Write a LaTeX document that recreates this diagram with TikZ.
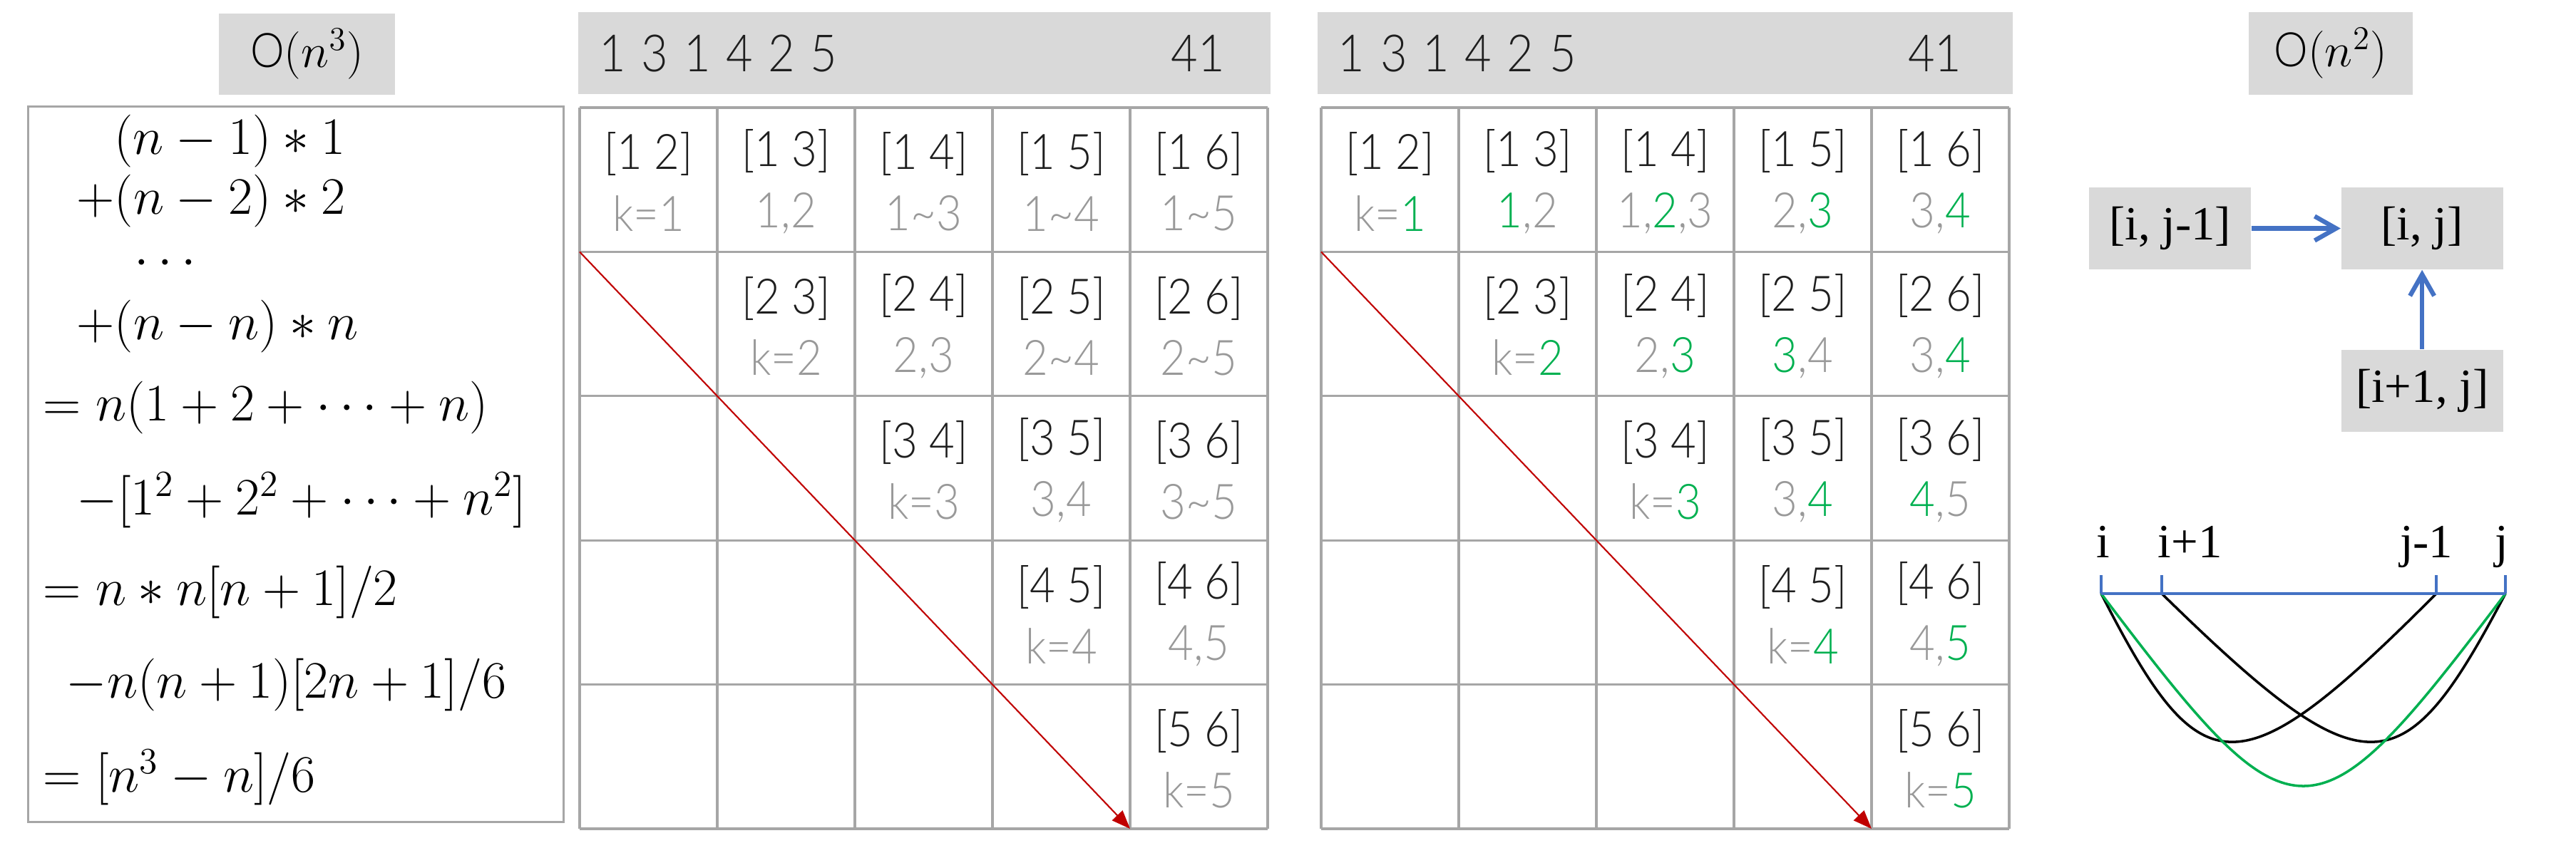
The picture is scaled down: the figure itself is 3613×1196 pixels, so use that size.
\RequirePackage{fix-cm}
\documentclass[tikz,border=0pt]{standalone}
\usepackage{fontspec}
\usetikzlibrary{arrows.meta, positioning}
\newfontfamily\cellfont[FakeStretch=0.9]{Lato Light}
\newfontfamily\tagfont{Liberation Serif}
\definecolor{boxgray}{HTML}{D9D9D9}
\definecolor{linegray}{HTML}{A6A6A6}
\definecolor{txtgray}{HTML}{999999}
\definecolor{ink}{HTML}{1E1E1E}
\definecolor{pgreen}{HTML}{00B050}
\definecolor{pred}{HTML}{C00000}
\definecolor{pblue}{HTML}{4472C4}
\newcommand{\muted}[1]{\textcolor{txtgray}{#1}}
\newcommand{\best}[1]{\textcolor{pgreen}{#1}}

\begin{document}
\begin{tikzpicture}[x=0.01cm, y=-0.01cm,
    tag/.style={fill=boxgray, inner sep=0pt, minimum width=2.27cm,
      minimum height=1.15cm, font=\tagfont\fontsize{19}{23}\selectfont},
    hdr/.style={fill=boxgray, inner ysep=0pt, minimum height=1.15cm,
      align=left, font=\cellfont\fontsize{20.5}{24}\selectfont, text=ink},
    cell/.style={inner sep=0pt, align=center,
      font=\cellfont\fontsize{19.5}{24.5}\selectfont, text=ink},
    frm/.style={anchor=west, inner sep=0pt, font=\fontsize{21}{25}\selectfont},
    ptlabel/.style={anchor=base, inner sep=0pt, font=\tagfont\fontsize{19}{22}\selectfont},
    gridline/.style={draw=linegray, line width=0.9pt},
    diag/.style={pred, line width=0.6pt, -{Triangle[length=2.6mm, width=2mm]}},
    flow/.style={pblue, line width=1.8pt, -{Straight Barb[length=3mm, width=3.4mm]}},
    numline/.style={pblue, line width=1.3pt},
    span/.style={line width=1pt}
  ]
  \useasboundingbox (0,0) rectangle (3613,1196);

  % O(n^3): sum of the naive loops
  \node[tag, minimum width=2.47cm, minimum height=1.14cm] (on3) at (430.5,76)
    {\cellfont O$(n^3)$};
  \node[draw=linegray, line width=0.9pt, minimum width=7.5cm,
    minimum height=10.03cm] (fbox) at (415,651.5) {};
  \node[frm] (f1) at (160,198) {$(n-1)*1$};
  \node[frm] (f2) at (107,282) {$+(n-2)*2$};
  \node[frm] (f3) at (188,370) {$\cdots$};
  \node[frm] (f4) at (107,458) {$+(n-n)*n$};
  \node[frm] (f5) at (60,572) {$=n(1+2+\cdots+n)$};
  \node[frm] (f6) at (107,702) {$-[1^2+2^2+\cdots+n^2]$};
  \node[frm] (f7) at (60,831) {$=n*n[n+1]/2$};
  \node[frm] (f8) at (92,961) {$-n(n+1)[2n+1]/6$};
  \node[frm] (f9) at (60,1091) {$=[n^3-n]/6$};

  % table 1: k over the whole range
  \node[hdr, minimum width=9.71cm, text width=9.11cm, inner xsep=0.3cm]
    (h1) at (1296.5,74.5)
    {\spaceskip=0.3em\relax 1 3 1 4 2 5\hskip 0pt plus 1fill 41\hspace*{0.34cm}};
  \begin{scope}[shift={(813,151)}]
    \foreach \k in {0,...,5} {
      \draw[gridline] (\k*193,0) -- (\k*193,1012);
      \draw[gridline] (0,\k*202.4) -- (965,\k*202.4);
    }
    \node[cell] (a12) at (96.5,104) {[1 2]\\\muted{k=1}};
    \node[cell] (a13) at (289.5,104) {[1 3]\\\muted{1,2}};
    \node[cell] (a14) at (482.5,104) {[1 4]\\\muted{1\textasciitilde 3}};
    \node[cell] (a15) at (675.5,104) {[1 5]\\\muted{1\textasciitilde 4}};
    \node[cell] (a16) at (868.5,104) {[1 6]\\\muted{1\textasciitilde 5}};
    \node[cell] (a23) at (289.5,306.4) {[2 3]\\\muted{k=2}};
    \node[cell] (a24) at (482.5,306.4) {[2 4]\\\muted{2,3}};
    \node[cell] (a25) at (675.5,306.4) {[2 5]\\\muted{2\textasciitilde 4}};
    \node[cell] (a26) at (868.5,306.4) {[2 6]\\\muted{2\textasciitilde 5}};
    \node[cell] (a34) at (482.5,508.8) {[3 4]\\\muted{k=3}};
    \node[cell] (a35) at (675.5,508.8) {[3 5]\\\muted{3,4}};
    \node[cell] (a36) at (868.5,508.8) {[3 6]\\\muted{3\textasciitilde 5}};
    \node[cell] (a45) at (675.5,711.2) {[4 5]\\\muted{k=4}};
    \node[cell] (a46) at (868.5,711.2) {[4 6]\\\muted{4,5}};
    \node[cell] (a56) at (868.5,913.6) {[5 6]\\\muted{k=5}};
    \coordinate (as) at (0,202.4);
    \coordinate (ae) at (772,1012);
    \draw[diag] (as) -- (ae);
  \end{scope}

  % table 2: k only between the two neighbours
  \node[hdr, minimum width=9.75cm, text width=9.17cm, inner xsep=0.29cm]
    (h2) at (2335.5,74.5)
    {\spaceskip=0.3em\relax 1 3 1 4 2 5\hskip 0pt plus 1fill 41\hspace*{0.43cm}};
  \begin{scope}[shift={(1853,151)}]
    \foreach \k in {0,...,5} {
      \draw[gridline] (\k*193,0) -- (\k*193,1012);
      \draw[gridline] (0,\k*202.4) -- (965,\k*202.4);
    }
    \node[cell] (b12) at (96.5,104) {[1 2]\\\muted{k=\best{1}}};
    \node[cell] (b13) at (289.5,104) {[1 3]\\\muted{\best{1},2}};
    \node[cell] (b14) at (482.5,104) {[1 4]\\\muted{1,\best{2},3}};
    \node[cell] (b15) at (675.5,104) {[1 5]\\\muted{2,\best{3}}};
    \node[cell] (b16) at (868.5,104) {[1 6]\\\muted{3,\best{4}}};
    \node[cell] (b23) at (289.5,306.4) {[2 3]\\\muted{k=\best{2}}};
    \node[cell] (b24) at (482.5,306.4) {[2 4]\\\muted{2,\best{3}}};
    \node[cell] (b25) at (675.5,306.4) {[2 5]\\\muted{\best{3},4}};
    \node[cell] (b26) at (868.5,306.4) {[2 6]\\\muted{3,\best{4}}};
    \node[cell] (b34) at (482.5,508.8) {[3 4]\\\muted{k=\best{3}}};
    \node[cell] (b35) at (675.5,508.8) {[3 5]\\\muted{3,\best{4}}};
    \node[cell] (b36) at (868.5,508.8) {[3 6]\\\muted{\best{4},5}};
    \node[cell] (b45) at (675.5,711.2) {[4 5]\\\muted{k=\best{4}}};
    \node[cell] (b46) at (868.5,711.2) {[4 6]\\\muted{4,\best{5}}};
    \node[cell] (b56) at (868.5,913.6) {[5 6]\\\muted{k=\best{5}}};
    \coordinate (bs) at (0,202.4);
    \coordinate (be) at (772,1012);
    \draw[diag] (bs) -- (be);
  \end{scope}

  % O(n^2): dependencies and split points
  \node[tag, minimum width=2.30cm, minimum height=1.16cm] (on2) at (3269,75)
    {\cellfont O$(n^2)$};
  \node[tag] (lft) at (3043.5,320.5) {[i, j-1]};
  \node[tag, right=1.25cm of lft] (ij) {[i, j]};
  \node[tag, below=1.11cm of ij] (dwn) {[i+1, j]};
  \draw[flow] (lft) -- (ij);
  \draw[flow] (dwn) -- (ij);

  \coordinate (ti) at (2947,833);
  \coordinate (ti1) at (3032,833);
  \coordinate (tj1) at (3417,833);
  \coordinate (tj) at (3514,833);
  \draw[span] (ti) .. controls (3087,1107) and (3137,1114) .. (tj1);
  \draw[span] (ti1) .. controls (3319,1114) and (3370,1107) .. (tj);
  \draw[span, pgreen] (ti) .. controls (3219,1193) and (3242,1193) .. (tj);
  \draw[numline] (ti) -- (tj);
  \foreach \p in {ti,ti1,tj1,tj}
    \draw[numline] (\p) -- ++(0,-26);
  \node[ptlabel] (li) at (2950,782) {i};
  \node[ptlabel, anchor=base west] (li1) at (3026,782) {i+1};
  \node[ptlabel, anchor=base east] (lj1) at (3441,782) {j-1};
  \node[ptlabel] (lj) at (3509,782) {j};
\end{tikzpicture}
\end{document}
